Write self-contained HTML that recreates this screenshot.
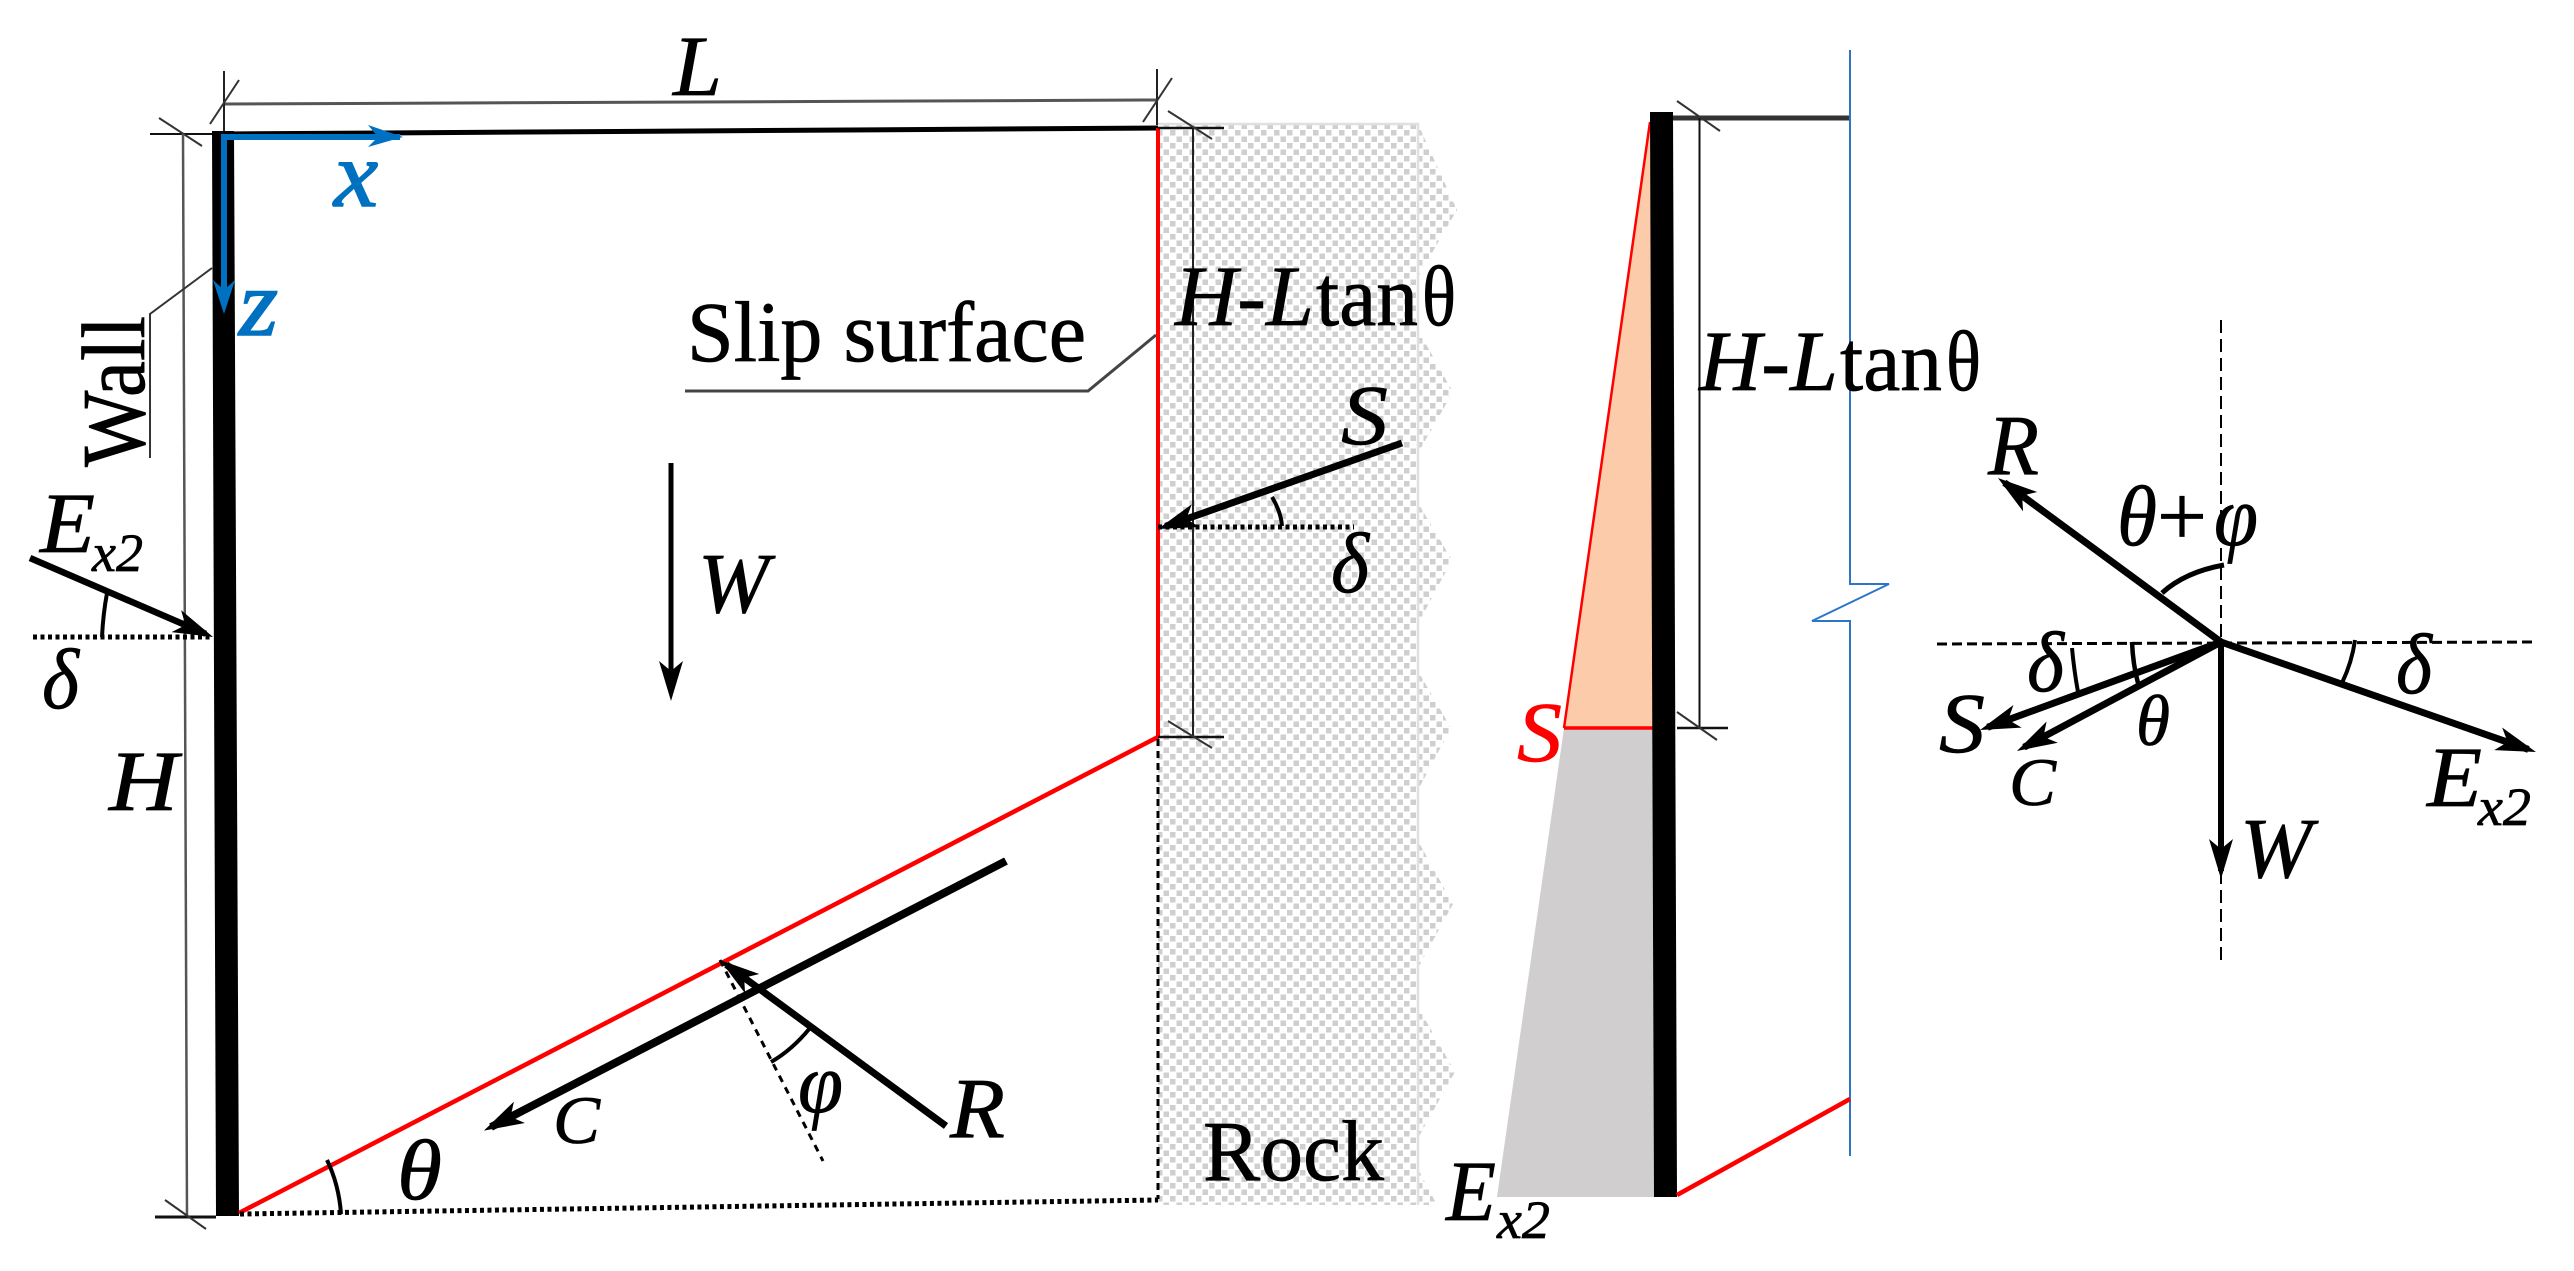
<!DOCTYPE html>
<html>
<head>
<meta charset="utf-8">
<title>Wall slip surface diagram</title>
<style>
html,body{margin:0;padding:0;background:#fff;width:2574px;height:1271px;overflow:hidden}
svg{display:block}
text{font-family:"Liberation Serif",serif;font-size:86px;fill:#000;stroke:#000;stroke-width:.7px}
.i{font-style:italic}
</style>
</head>
<body>
<svg width="2574" height="1271" viewBox="0 0 2574 1271" xmlns="http://www.w3.org/2000/svg">
<defs>
<pattern id="rock" width="13" height="13" patternUnits="userSpaceOnUse">
<rect x="0" y="0" width="5.5" height="5.5" fill="#cfcfcf"/>
<rect x="6.5" y="6.5" width="5.5" height="5.5" fill="#cfcfcf"/>
</pattern>
<marker id="ah" markerUnits="userSpaceOnUse" markerWidth="50" markerHeight="30" refX="32" refY="15" orient="auto" overflow="visible">
<path d="M0,3 L40,15 L0,27 L10,15 Z" fill="#000"/>
</marker>
</defs>

<!-- rock -->
<polygon points="1158,124 1418,124 1457,210 1418,277 1418,330 1453,392 1418,453 1418,503 1452,560 1418,624 1418,671 1451,728 1418,790 1418,841 1453,904 1418,968 1418,1007 1455,1072 1418,1138 1418,1169 1437,1205 1158,1205" fill="url(#rock)"/>
<path d="M1158,124 H1418 V1205" fill="none" stroke="#e0e0e0" stroke-width="2.5"/>

<!-- left wall -->
<polygon points="212,131 234,131 239,1216 216,1216" fill="#000"/>

<!-- top ground -->
<line x1="224" y1="134" x2="1158" y2="128" stroke="#000" stroke-width="5"/>
<!-- L dimension -->
<line x1="224" y1="104" x2="1157" y2="100" stroke="#555" stroke-width="3"/>
<line x1="224" y1="71" x2="224" y2="131" stroke="#222" stroke-width="2"/>
<line x1="239" y1="80" x2="210" y2="124" stroke="#333" stroke-width="2"/>
<line x1="1157" y1="69" x2="1157" y2="125" stroke="#222" stroke-width="2"/>
<line x1="1172" y1="78" x2="1143" y2="122" stroke="#333" stroke-width="2"/>
<!-- H dimension -->
<line x1="150" y1="134" x2="212" y2="134" stroke="#111" stroke-width="2"/>
<line x1="159" y1="118" x2="202" y2="146" stroke="#333" stroke-width="2"/>
<line x1="183" y1="134" x2="187" y2="1217" stroke="#555" stroke-width="2.5"/>
<line x1="155" y1="1217" x2="216" y2="1217" stroke="#111" stroke-width="3"/>
<line x1="165" y1="1200" x2="206" y2="1229" stroke="#333" stroke-width="2"/>
<!-- wall leader -->
<polyline points="150,458 150,314 212,268" fill="none" stroke="#333" stroke-width="2"/>

<!-- blue axes -->
<polyline points="400,137 224,137 224,290" fill="none" stroke="#0070c0" stroke-width="6"/>
<polygon points="403,137 368,125 378,137 368,147" fill="#0070c0"/>
<polygon points="224,314 213,280 224,290 235,280" fill="#0070c0"/>
<text class="i" x="334" y="206" textLength="44" lengthAdjust="spacingAndGlyphs" style="font-size:94px;fill:#0070c0;stroke:#0070c0;stroke-width:1.6px">x</text>
<text class="i" x="239" y="335" textLength="39" lengthAdjust="spacingAndGlyphs" style="font-size:94px;fill:#0070c0;stroke:#0070c0;stroke-width:1.6px">z</text>

<!-- red slip -->
<line x1="1158" y1="128" x2="1158" y2="737" stroke="#f00" stroke-width="4"/>
<line x1="1158" y1="737" x2="239" y2="1213" stroke="#f00" stroke-width="4.5"/>
<!-- dashed and dotted base -->
<line x1="1158" y1="739" x2="1158" y2="1199" stroke="#000" stroke-width="3" stroke-dasharray="7 5"/>
<line x1="240" y1="1214" x2="1158" y2="1200" stroke="#000" stroke-width="5" stroke-dasharray="4 3.5"/>
<!-- H-L dim -->
<line x1="1193" y1="128" x2="1193" y2="737" stroke="#222" stroke-width="2"/>
<line x1="1158" y1="128" x2="1224" y2="128" stroke="#111" stroke-width="2.5"/>
<line x1="1168" y1="111" x2="1212" y2="139" stroke="#333" stroke-width="2"/>
<line x1="1158" y1="737" x2="1224" y2="737" stroke="#111" stroke-width="2.5"/>
<line x1="1168" y1="721" x2="1212" y2="748" stroke="#333" stroke-width="2"/>
<!-- slip leader -->
<polyline points="685,391 1088,391 1156,335" fill="none" stroke="#444" stroke-width="3"/>

<!-- S left diagram -->
<line x1="1402" y1="443" x2="1165.5" y2="526.3" stroke="#000" stroke-width="7" marker-end="url(#ah)"/>
<line x1="1158" y1="527" x2="1354" y2="527" stroke="#000" stroke-width="5" stroke-dasharray="4 3.5"/>
<path d="M1272,497 Q1281,512 1282,526" fill="none" stroke="#000" stroke-width="4"/>
<!-- E left -->
<line x1="30" y1="558" x2="205.7" y2="633.8" stroke="#000" stroke-width="6.5" marker-end="url(#ah)"/>
<line x1="33" y1="637" x2="212" y2="637" stroke="#000" stroke-width="5" stroke-dasharray="4 3.5"/>
<path d="M107,593 Q103,615 102,637" fill="none" stroke="#000" stroke-width="4"/>
<!-- W -->
<line x1="671" y1="463" x2="671" y2="693" stroke="#000" stroke-width="5" marker-end="url(#ah)"/>
<!-- C and R -->
<line x1="1006" y1="861" x2="491" y2="1127" stroke="#000" stroke-width="8" marker-end="url(#ah)"/>
<line x1="946" y1="1126" x2="726.4" y2="964.7" stroke="#000" stroke-width="7" marker-end="url(#ah)"/>
<line x1="720" y1="960" x2="823" y2="1161" stroke="#000" stroke-width="3" stroke-dasharray="7 6"/>
<path d="M810,1028 Q792,1050 771,1062" fill="none" stroke="#000" stroke-width="4"/>
<path d="M327,1160 Q339,1185 341,1214" fill="none" stroke="#000" stroke-width="4"/>

<!-- middle diagram -->
<polygon points="1650,122 1654,728 1564,728" fill="#fbcbaa"/>
<polygon points="1564,728 1654,728 1654,1197 1497,1197" fill="#d0cece"/>
<line x1="1650" y1="122" x2="1564" y2="728" stroke="#f00" stroke-width="2.5"/>
<line x1="1564" y1="728" x2="1654" y2="728" stroke="#f00" stroke-width="3.5"/>
<polygon points="1650,112 1673,112 1677,1197 1654,1197" fill="#000"/>
<line x1="1673" y1="118" x2="1850" y2="118" stroke="#333" stroke-width="5"/>
<line x1="1699.5" y1="118" x2="1699.5" y2="728" stroke="#111" stroke-width="2"/>
<line x1="1677" y1="101" x2="1720" y2="131" stroke="#333" stroke-width="2"/>
<line x1="1677" y1="728" x2="1728" y2="728" stroke="#111" stroke-width="2.5"/>
<line x1="1677" y1="712" x2="1717" y2="740" stroke="#333" stroke-width="2"/>
<polyline points="1850,50 1850,584 1889,584 1812,621 1850,621 1850,1156" fill="none" stroke="#2e75c6" stroke-width="2"/>
<line x1="1677" y1="1195" x2="1850" y2="1099" stroke="#f00" stroke-width="4.5"/>

<!-- force polygon -->
<line x1="2221" y1="320" x2="2221" y2="960" stroke="#000" stroke-width="2" stroke-dasharray="13 6"/>
<line x1="1937" y1="644" x2="2536" y2="642" stroke="#000" stroke-width="3" stroke-dasharray="10 5"/>
<line x1="2221" y1="642" x2="2004.4" y2="482.7" stroke="#000" stroke-width="7" marker-end="url(#ah)"/>
<line x1="2221" y1="642" x2="2221" y2="871" stroke="#000" stroke-width="6" marker-end="url(#ah)"/>
<line x1="2221" y1="642" x2="2528.4" y2="749.4" stroke="#000" stroke-width="7" marker-end="url(#ah)"/>
<line x1="2221" y1="642" x2="1987.5" y2="727.3" stroke="#000" stroke-width="7" marker-end="url(#ah)"/>
<line x1="2221" y1="642" x2="2024" y2="747.2" stroke="#000" stroke-width="7" marker-end="url(#ah)"/>
<path d="M2162,593 Q2185,572 2224,565" fill="none" stroke="#000" stroke-width="5"/>
<path d="M2072,648 Q2074,670 2078,692" fill="none" stroke="#000" stroke-width="4"/>
<path d="M2132,642 Q2133,665 2138,683" fill="none" stroke="#000" stroke-width="4.5"/>
<path d="M2355,640 Q2352,662 2342,683" fill="none" stroke="#000" stroke-width="4"/>

<!-- labels -->
<text class="i" x="673" y="95" textLength="49" lengthAdjust="spacingAndGlyphs">L</text>
<text transform="translate(144,467) rotate(-90)" textLength="151" lengthAdjust="spacingAndGlyphs" style="font-size:90px">Wall</text>
<text x="687" y="361" textLength="399" lengthAdjust="spacingAndGlyphs">Slip surface</text>
<text class="i" x="1175" y="325" textLength="139" lengthAdjust="spacingAndGlyphs">H-L</text>
<text x="1316" y="325" textLength="102" lengthAdjust="spacingAndGlyphs">tan</text>
<text x="1422" y="325" textLength="34" lengthAdjust="spacingAndGlyphs">θ</text>
<text class="i" x="1699" y="390" textLength="139" lengthAdjust="spacingAndGlyphs">H-L</text>
<text x="1840" y="390" textLength="102" lengthAdjust="spacingAndGlyphs">tan</text>
<text x="1946" y="390" textLength="35" lengthAdjust="spacingAndGlyphs">θ</text>

<text class="i" x="40" y="552" textLength="55" lengthAdjust="spacingAndGlyphs">E</text>
<text class="i" x="92" y="571" textLength="51" lengthAdjust="spacingAndGlyphs" style="font-size:54px">x2</text>
<text class="i" x="42" y="708" textLength="37" lengthAdjust="spacingAndGlyphs">δ</text>
<text class="i" x="109" y="810" textLength="69" lengthAdjust="spacingAndGlyphs">H</text>
<text class="i" x="698" y="612" textLength="71" lengthAdjust="spacingAndGlyphs">W</text>
<text class="i" x="1341" y="444" textLength="47" lengthAdjust="spacingAndGlyphs">S</text>
<text class="i" x="1331" y="592" textLength="38" lengthAdjust="spacingAndGlyphs">δ</text>
<text x="1203" y="1180" textLength="181" lengthAdjust="spacingAndGlyphs">Rock</text>
<text class="i" x="950" y="1137" textLength="55" lengthAdjust="spacingAndGlyphs">R</text>
<text class="i" x="553" y="1143" textLength="47" lengthAdjust="spacingAndGlyphs" style="font-size:68px">C</text>
<text class="i" x="798" y="1112" textLength="45" lengthAdjust="spacingAndGlyphs">φ</text>
<text class="i" x="397" y="1199" textLength="45" lengthAdjust="spacingAndGlyphs">θ</text>

<text class="i" x="1517" y="761" textLength="45" lengthAdjust="spacingAndGlyphs" style="fill:#f00;stroke:#f00">S</text>
<text class="i" x="1446" y="1220" textLength="50" lengthAdjust="spacingAndGlyphs">E</text>
<text class="i" x="1497" y="1238" textLength="53" lengthAdjust="spacingAndGlyphs" style="font-size:54px">x2</text>

<text class="i" x="1988" y="474" textLength="51" lengthAdjust="spacingAndGlyphs">R</text>
<text class="i" x="2117" y="545" textLength="40" lengthAdjust="spacingAndGlyphs">θ</text>
<text x="2157" y="545" textLength="50" lengthAdjust="spacingAndGlyphs">+</text>
<text class="i" x="2214" y="545" textLength="44" lengthAdjust="spacingAndGlyphs">φ</text>
<text class="i" x="2027" y="691" textLength="37" lengthAdjust="spacingAndGlyphs">δ</text>
<text class="i" x="1939" y="752" textLength="46" lengthAdjust="spacingAndGlyphs">S</text>
<text class="i" x="2009" y="805" textLength="47" lengthAdjust="spacingAndGlyphs" style="font-size:68px">C</text>
<text class="i" x="2136" y="745" textLength="34" lengthAdjust="spacingAndGlyphs" style="font-size:72px">θ</text>
<text class="i" x="2240" y="877" textLength="72" lengthAdjust="spacingAndGlyphs">W</text>
<text class="i" x="2427" y="806" textLength="55" lengthAdjust="spacingAndGlyphs">E</text>
<text class="i" x="2478" y="825" textLength="53" lengthAdjust="spacingAndGlyphs" style="font-size:54px">x2</text>
<text class="i" x="2396" y="693" textLength="36" lengthAdjust="spacingAndGlyphs">δ</text>
</svg>
</body>
</html>
